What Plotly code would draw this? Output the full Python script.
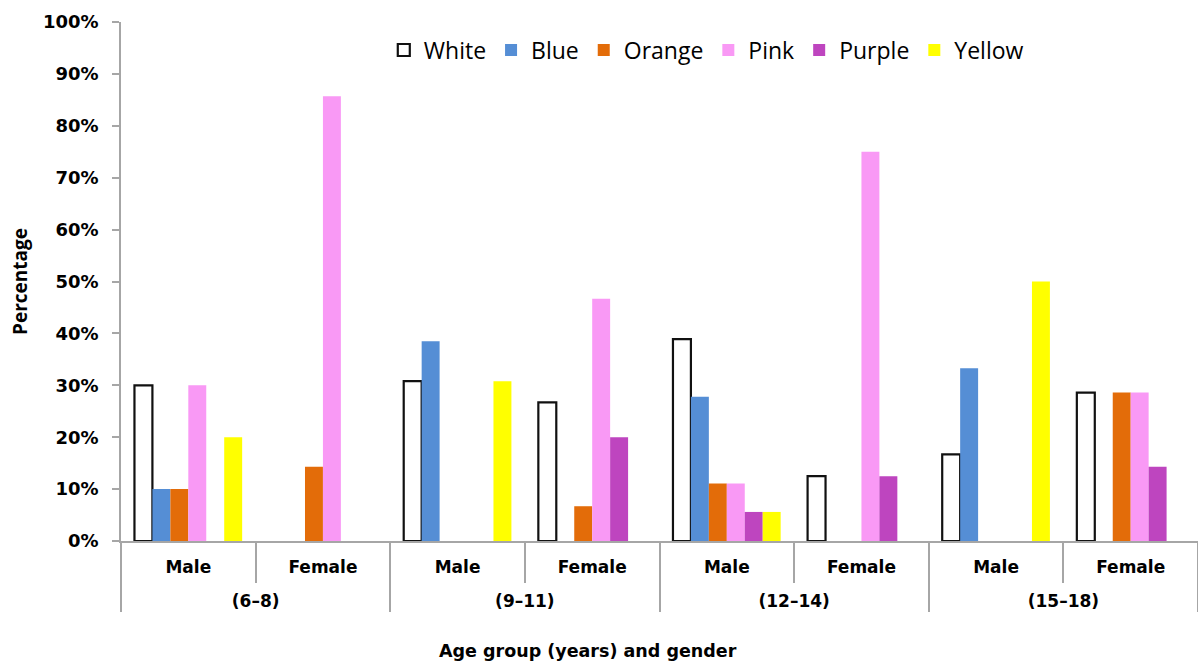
import plotly.graph_objects as go

# Category levels
age_groups = ["(6–8)", "(6–8)", "(9–11)", "(9–11)", "(12–14)", "(12–14)", "(15–18)", "(15–18)"]
genders = ["Male", "Female", "Male", "Female", "Male", "Female", "Male", "Female"]

# Share of children choosing each colour (fraction)
white = [0.300, 0.0, 0.308, 0.267, 0.389, 0.125, 0.167, 0.286]
blue = [0.100, 0.0, 0.385, 0.0, 0.278, 0.0, 0.333, 0.0]
orange = [0.100, 0.143, 0.0, 0.067, 0.111, 0.0, 0.0, 0.286]
pink = [0.300, 0.857, 0.0, 0.467, 0.111, 0.750, 0.0, 0.286]
purple = [0.0, 0.0, 0.0, 0.200, 0.056, 0.125, 0.0, 0.143]
yellow = [0.200, 0.0, 0.308, 0.0, 0.056, 0.0, 0.500, 0.0]

series = [
    ("White", white, "#FFFFFF"),
    ("Blue", blue, "#558ED5"),
    ("Orange", orange, "#E36C09"),
    ("Pink", pink, "#F999F5"),
    ("Purple", purple, "#BE45BF"),
    ("Yellow", yellow, "#FFFF00"),
]

# outer labels sit one line lower than the gender labels
outer_labels = ["<br>" + a for a in age_groups]

fig = go.Figure()
for name, vals, col in series:
    if name == "White":
        outline = "#111111"
        widths = [2.2 if v > 0 else 0 for v in vals]
    else:
        outline = col
        widths = 0
    fig.add_trace(go.Bar(
        name=name,
        x=[outer_labels, genders],
        y=vals,
        marker=dict(color=col, line=dict(color=outline, width=widths)),
    ))

axis_grey = "#A6A6A6"

fig.update_layout(
    width=1198, height=662,
    margin=dict(l=121, r=0, t=22, b=121),
    paper_bgcolor="white", plot_bgcolor="white",
    barmode="group", bargap=0.2, bargroupgap=0,
    showlegend=True,
    legend=dict(
        orientation="h", x=0.244, y=0.946, xanchor="left", yanchor="middle",
        font=dict(family="Open Sans", size=23, color="#000000"),
        bgcolor="rgba(0,0,0,0)", itemwidth=30, traceorder="normal",
    ),
    xaxis=dict(
        type="multicategory",
        showline=True, linecolor=axis_grey, linewidth=1.5,
        ticks="outside", tickson="boundaries", ticklen=40, tickcolor=axis_grey, tickwidth=1.5,
        showdividers=True, dividercolor=axis_grey, dividerwidth=1.5,
        ticklabelstandoff=10,
        tickfont=dict(family="DejaVu Sans", size=17, color="#000000", weight="bold"),
        showgrid=False,
    ),
    yaxis=dict(
        range=[0, 1], dtick=0.1, tickformat=".0%",
        showline=True, linecolor=axis_grey, linewidth=1.5,
        ticks="outside", ticklen=7, tickcolor=axis_grey, tickwidth=1.5,
        ticklabelstandoff=10,
        showgrid=False, zeroline=False,
        tickfont=dict(family="DejaVu Sans", size=18, color="#000000", weight="bold"),
        title=dict(text="Percentage", standoff=10,
                   font=dict(family="Open Sans", size=19, color="#000000", weight="bold")),
    ),
    annotations=[dict(
        text="Age group (years) and gender", xref="paper", yref="paper",
        x=0.434, y=-0.212, xanchor="center", yanchor="middle", showarrow=False,
        font=dict(family="DejaVu Sans", size=17.5, color="#000000", weight="bold"),
    )],
)

fig.write_html("out.html")
